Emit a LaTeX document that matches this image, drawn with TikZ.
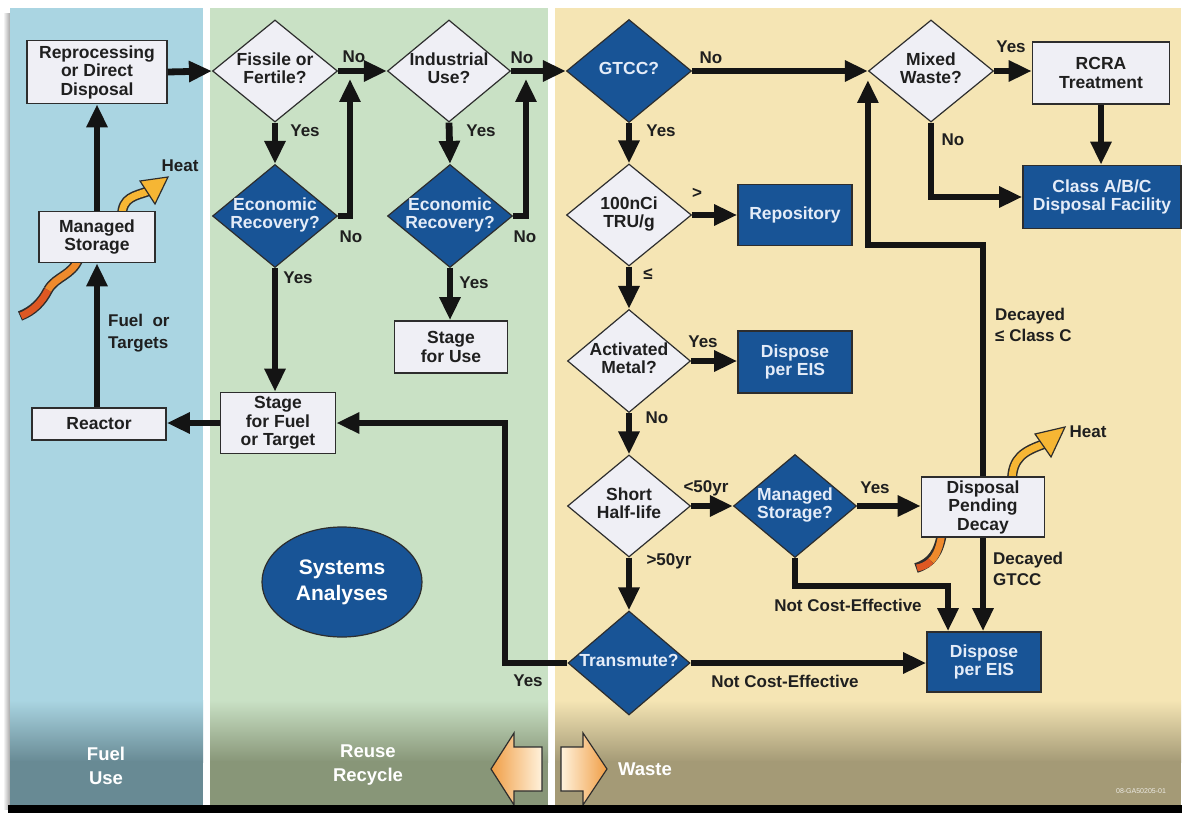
\documentclass[tikz,border=0pt]{standalone}
\usepackage{fontspec}
\setmainfont{Liberation Sans}
\usetikzlibrary{arrows.meta,shapes.geometric,calc}

% centred multi-line text that takes no room, so a diamond keeps its set size
\newcommand\dtxt[1]{\makebox[0pt]{\raisebox{\dimexpr(\depth-\height)/2\relax}[0pt][0pt]{\begin{tabular}{@{}c@{}}#1\end{tabular}}}}

\definecolor{fuelbg}{RGB}{170,213,226}
\definecolor{reusebg}{RGB}{201,225,197}
\definecolor{wastebg}{RGB}{245,229,180}
\definecolor{fueldk}{RGB}{104,138,148}
\definecolor{reusedk}{RGB}{136,150,120}
\definecolor{wastedk}{RGB}{164,154,118}
\definecolor{navy}{RGB}{24,84,150}
\definecolor{navytext}{RGB}{228,236,248}
\definecolor{pale}{RGB}{239,239,245}
\definecolor{edge}{RGB}{45,45,45}
\definecolor{heatY}{RGB}{246,182,52}
\definecolor{heatO}{RGB}{238,138,44}
\definecolor{heatR}{RGB}{214,62,30}
\definecolor{arrowO}{RGB}{240,158,70}
\definecolor{arrowL}{RGB}{255,242,220}

\begin{document}
\begin{tikzpicture}[x=1pt,y=-1pt,
  pbox/.style={draw=edge, line width=1.6pt, fill=pale, text=black!88,
    font=\fontsize{17.5}{18.5}\selectfont\bfseries, align=center, inner sep=1pt},
  navybox/.style={pbox, fill=navy, text=navytext},
  dia/.style={diamond, draw=edge, line width=1.2pt, fill=pale, inner sep=0pt,
    text=black!88, font=\fontsize{17.5}{17.5}\selectfont\bfseries},
  navydia/.style={dia, fill=navy, text=navytext},
  lbl/.style={font=\fontsize{17}{21.5}\selectfont\bfseries, text=black!88, inner sep=0pt},
  bandtxt/.style={font=\fontsize{18.5}{24}\selectfont\bfseries, text=white, align=center, inner sep=0pt},
  conn/.style={line width=6.8pt, draw=black!92, line join=miter,
    -{Triangle[length=23pt,width=20pt]}},
]
\useasboundingbox (0,0) rectangle (1188,813);
\fill[white] (0,0) rectangle (1188,813);

% --- column panels -------------------------------------------------------
\shade[left color=white, right color=gray!70] (3,14) rectangle (10,809);
\fill[fuelbg]  (10,8)  rectangle (203,805);
\fill[reusebg] (210,8) rectangle (548,805);
\fill[wastebg] (555,8) rectangle (1181,805);
\shade[top color=fuelbg,  bottom color=fueldk]  (10,700)  rectangle (203,762);
\shade[top color=reusebg, bottom color=reusedk] (210,700) rectangle (548,762);
\shade[top color=wastebg, bottom color=wastedk] (555,700) rectangle (1181,762);
\fill[fueldk]  (10,761)  rectangle (203,805);
\fill[reusedk] (210,761) rectangle (548,805);
\fill[wastedk] (555,761) rectangle (1181,805);

% direction arrows in the band
\shadedraw[left color=arrowO, right color=arrowL, draw=edge, line width=1.2pt]
  (491,769) -- (514,733) -- (514,747) -- (542,747) -- (542,791) -- (514,791) -- (514,805) -- cycle;
\shadedraw[left color=arrowL, right color=arrowO, draw=edge, line width=1.2pt]
  (561,747) -- (583,747) -- (583,733) -- (607,769) -- (583,805) -- (583,791) -- (561,791) -- cycle;
\fill[black] (8,805) rectangle (1182,813);

\node[bandtxt] (fueluse) at (106,766) {Fuel\\Use};
\node[bandtxt] (reuserec) at (368,765) {Reuse\\Recycle};
\node[bandtxt] (wastetxt) at (645,769) {Waste};
\node[font=\fontsize{7}{8}\selectfont, text=white!80!wastedk, inner sep=0pt] (code) at (1141,791) {08-GA50205-01};

% --- heat in / heat out ribbons ----------------------------------------------
\draw[line width=10pt, edge] (79,258) .. controls (72,276) and (56,276) .. (48,290);
\draw[line width=10pt, edge] (48,290) .. controls (42,302) and (33,311) .. (20,316);
\draw[line width=7pt, heatO] (79,258) .. controls (72,276) and (56,276) .. (48,290);
\draw[line width=7pt, heatR!65!heatO] (48,290) .. controls (42,302) and (33,311) .. (21,316);
\draw[line width=10pt, edge] (122,216) .. controls (122,197) and (135,196) .. (149,191);
\draw[line width=7pt, heatY] (122,216) .. controls (122,197) and (135,196) .. (149,191);
\filldraw[fill=heatY, draw=edge, line width=1.2pt] (168,177) -- (140,181) -- (155,204) -- cycle;

\draw[line width=10pt, edge] (942,533) .. controls (939,552) and (932,563) .. (916,568);
\draw[line width=7pt, heatO] (942,533) .. controls (940,546) and (937,555) .. (931,561);
\draw[line width=7pt, heatR!65!heatO] (931,561) .. controls (927,565) and (922,567) .. (917,568);
\draw[line width=10pt, edge] (1012,481) .. controls (1012,458) and (1024,451) .. (1044,444);
\draw[line width=7pt, heatY] (1012,481) .. controls (1012,458) and (1024,451) .. (1044,444);
\filldraw[fill=heatY, draw=edge, line width=1.2pt] (1065,427) -- (1035,434) -- (1051,457) -- cycle;
\node[lbl] (heatA) at (180,166) {Heat};
\node[lbl] (heatB) at (1088,432) {Heat};

% --- fuel use column -------------------------------------------------------
\node[pbox, minimum width=140pt, minimum height=63pt] (repro) at (97,72) {Reprocessing\\or Direct\\Disposal};
\node[pbox, minimum width=116pt, minimum height=51pt] (mstore) at (97,237) {Managed\\Storage};
\node[pbox, minimum width=134pt, minimum height=32pt] (reactor) at (99,424) {Reactor};

% --- reuse / recycle column --------------------------------------------------
\node[dia, minimum width=125pt, minimum height=102pt] (fissile) at (275,71) {\dtxt{Fissile or\\Fertile?}};
\node[navydia, minimum width=125pt, minimum height=103pt] (econA) at (275,216) {\dtxt{Economic\\Recovery?}};
\node[pbox, minimum width=115pt, minimum height=61pt] (stagefuel) at (278,423) {Stage\\for Fuel\\or Target};
\node[dia, minimum width=123pt, minimum height=102pt] (indus) at (449,71) {\dtxt{Industrial\\Use?}};
\node[navydia, minimum width=125pt, minimum height=103pt] (econB) at (450,216) {\dtxt{Economic\\Recovery?}};
\node[pbox, minimum width=113pt, minimum height=52pt] (stageuse) at (451,347) {Stage\\for Use};
\node[ellipse, draw=edge, line width=1.2pt, fill=navy, text=white, align=center,
  minimum width=160pt, minimum height=110pt, font=\fontsize{21}{26}\selectfont\bfseries] (sysan) at (342,582) {Systems\\Analyses};

% --- waste column ------------------------------------------------------------
\node[navydia, minimum width=125pt, minimum height=103pt] (gtcc) at (629,71) {\dtxt{GTCC?}};
\node[dia, minimum width=125pt, minimum height=102pt] (tru) at (629,215) {\dtxt{100nCi\\TRU/g}};
\node[navybox, minimum width=114pt, minimum height=61pt] (repos) at (795,215) {Repository};
\node[dia, minimum width=123pt, minimum height=103pt] (actmet) at (629,361) {\dtxt{Activated\\Metal?}};
\node[navybox, minimum width=114pt, minimum height=62pt] (eisA) at (795,362) {Dispose\\per EIS};
\node[dia, minimum width=123pt, minimum height=102pt] (short) at (629,506) {\dtxt{Short\\Half-life}};
\node[navydia, minimum width=123pt, minimum height=103pt] (mstq) at (795,506) {\dtxt{Managed\\Storage?}};
\node[pbox, minimum width=123pt, minimum height=60pt] (pend) at (983,507) {Disposal\\Pending\\Decay};
\node[navybox, minimum width=114pt, minimum height=60pt] (eisB) at (984,662) {Dispose\\per EIS};
\node[navydia, minimum width=122pt, minimum height=104pt] (transm) at (629,663) {\dtxt{Transmute?}};
\node[dia, minimum width=125pt, minimum height=102pt] (mixed) at (931,71) {\dtxt{Mixed\\Waste?}};
\node[pbox, minimum width=137pt, minimum height=62pt] (rcra) at (1101,73) {RCRA\\Treatment};
\node[navybox, minimum width=158pt, minimum height=63pt] (abc) at (1102,197) {Class A/B/C\\Disposal Facility};

% --- bend points ---------------------------------------------------------
\coordinate (jA) at (350,79);
\coordinate (jB) at (526,79);
\coordinate (bendT) at (505,423);
\coordinate (bendM) at (948,586);
\coordinate (bendD) at (983,245);

% --- connectors ------------------------------------------------------------
\draw[conn] (repro.east) -- (fissile.west);
\draw[conn] (mstore.north) -- (repro.south);
\draw[conn] (reactor.north -| mstore.south) -- (mstore.south);
\draw[conn] (fissile.east) -- (indus.west);
\draw[conn] (fissile.south) -- (econA.north);
\draw[conn] (econA.east) -| (jA);
\draw[conn] (econA.south) -- (econA.south |- stagefuel.north);
\draw[conn] (stagefuel.west) -- (stagefuel.west -| reactor.east);
\draw[conn] (indus.east) -- (gtcc.west);
\draw[conn] (indus.south) -- (econB.north);
\draw[conn] (econB.east) -| (jB);
\draw[conn] (econB.south) -- (econB.south |- stageuse.north);
\draw[conn] (gtcc.east) -- (mixed.west);
\draw[conn] (gtcc.south) -- (tru.north);
\draw[conn] (tru.east) -- (tru.east -| repos.west);
\draw[conn] (tru.south) -- (actmet.north);
\draw[conn] (actmet.east) -- (actmet.east -| eisA.west);
\draw[conn] (actmet.south) -- (short.north);
\draw[conn] (short.east) -- (mstq.west);
\draw[conn] (short.south) -- (transm.north);
\draw[conn] (mstq.east) -- (mstq.east -| pend.west);
\draw[conn] (mstq.south) |- (bendM) -- (bendM |- eisB.north);
\draw[conn] (pend.south) -- (pend.south |- eisB.north);
\draw[conn] (pend.north) -- (bendD) -| ([yshift=-9pt]mixed.west);
\draw[conn] (mixed.east) -- (mixed.east -| rcra.west);
\draw[conn] (mixed.south) |- (abc.west);
\draw[conn] (rcra.south) -- (rcra.south |- abc.north);
\draw[conn] (transm.east) -- (transm.east -| eisB.west);
\draw[conn] (transm.west) -| (bendT) -- (stagefuel.east);

% --- connector labels ------------------------------------------------------
\node[lbl, align=left, anchor=west] (fueltg) at (108,333) {Fuel\ \ or\\Targets};
\node[lbl] (l1) at (354,57) {No};
\node[lbl] (l2) at (305,131) {Yes};
\node[lbl] (l3) at (351,237) {No};
\node[lbl] (l4) at (298,278) {Yes};
\node[lbl] (l5) at (522,58) {No};
\node[lbl] (l6) at (481,131) {Yes};
\node[lbl] (l7) at (525,237) {No};
\node[lbl] (l8) at (474,283) {Yes};
\node[lbl] (l9) at (711,58) {No};
\node[lbl] (l10) at (661,131) {Yes};
\node[lbl] (l11) at (697,193) {>};
\node[lbl] (l12) at (648,274) {≤};
\node[lbl] (l13) at (703,342) {Yes};
\node[lbl] (l14) at (657,418) {No};
\node[lbl] (l15) at (706,488) {<50yr};
\node[lbl] (l16) at (669,561) {>50yr};
\node[lbl] (l17) at (875,488) {Yes};
\node[lbl] (l18) at (848,605) {Not Cost-Effective};
\node[lbl] (l19) at (785,681) {Not Cost-Effective};
\node[lbl] (l20) at (528,681) {Yes};
\node[lbl, align=left, anchor=west] (l21) at (993,569) {Decayed\\GTCC};
\node[lbl, align=left, anchor=west] (l22) at (995,325) {Decayed\\≤ Class C};
\node[lbl] (l23) at (1011,47) {Yes};
\node[lbl] (l24) at (953,140) {No};
\end{tikzpicture}
\end{document}
